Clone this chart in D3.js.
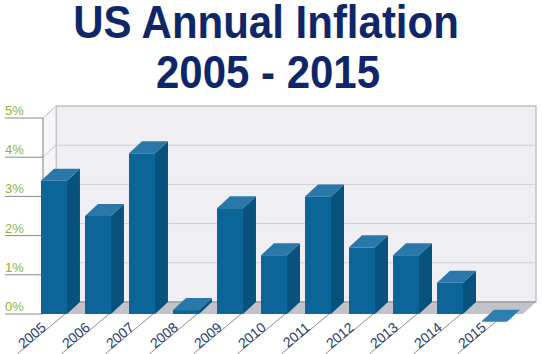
<!DOCTYPE html>
<html>
<head>
<meta charset="utf-8">
<script src="https://cdn.jsdelivr.net/npm/d3@7"></script>
<style>
  body { margin: 0; background: #fff; }
  svg { display: block; font-family: "Liberation Sans", Arial, sans-serif; }
</style>
</head>
<body>
<div id="chart"></div>
<script>
// data (Dec-Dec CPI change, %)
var years = ["2005", "2006", "2007", "2008", "2009", "2010", "2011", "2012", "2013", "2014", "2015"];
var inflation = [3.4, 2.5, 4.1, 0.1, 2.7, 1.5, 3.0, 1.7, 1.5, 0.8, -0.2];
var yTicks = [0, 1, 2, 3, 4, 5];
var titleLines = ["US Annual Inflation", "2005 - 2015"];

var data = years.map(function (d, i) { return { year: d, value: inflation[i] }; });

var width = 542, height = 354;
var dx = 13, dy = -12; // depth of the 3d box
var x0 = 43, x1 = 523;  // front plane

var svg = d3.select("#chart").append("svg")
  .attr("width", width)
  .attr("height", height);

// title
var titleY = [38, 88], titleX = [266, 268];
titleLines.forEach(function (t, i) {
  svg.append("text")
    .attr("transform", "translate(" + titleX[i] + "," + titleY[i] + ") scale(1,1.08)")
    .attr("text-anchor", "middle")
    .attr("font-size", 42)
    .attr("font-weight", "bold")
    .attr("fill", "#0f2768")
    .text(t);
});

var y = d3.scaleLinear().domain([0, 5]).range([314, 118]);
var x = d3.scaleBand()
  .domain(years)
  .range([41, 507])
  .paddingInner(0.41)
  .paddingOuter(0);
var bw = x.bandwidth();

function pts(a) { return a.map(function (p) { return p.join(","); }).join(" "); }

// back wall
svg.append("rect")
  .attr("x", x0 + dx).attr("y", y(5) + dy)
  .attr("width", x1 - x0).attr("height", y(0) - y(5))
  .attr("fill", "#efeff3")
  .attr("stroke", "#a8a8ac").attr("stroke-width", 1);

// left wall
svg.append("polygon")
  .attr("points", pts([[x0, y(5)], [x0 + dx, y(5) + dy], [x0 + dx, y(0) + dy], [x0, y(0)]]))
  .attr("fill", "#f6f6f9")
  .attr("stroke", "#c4c4c8");

// grid lines
var grid = svg.append("g").attr("class", "grid");
yTicks.forEach(function (t) {
  if (t > 0 && t < 5) {
    grid.append("line")
      .attr("x1", x0 + dx).attr("x2", x1 + dx)
      .attr("y1", y(t) + dy).attr("y2", y(t) + dy)
      .attr("stroke", "#cfcfd3");
  }
  grid.append("line")
    .attr("x1", x0).attr("x2", x0 + dx)
    .attr("y1", y(t)).attr("y2", y(t) + dy)
    .attr("stroke", "#c8c8cc");
});

// floor
svg.append("polygon")
  .attr("points", pts([[x0, y(0)], [x1, y(0)], [x1 + dx, y(0) + dy], [x0 + dx, y(0) + dy]]))
  .attr("fill", "#c3c3c7");
svg.append("line")
  .attr("x1", x0 + dx).attr("x2", x1 + dx)
  .attr("y1", y(0) + dy).attr("y2", y(0) + dy)
  .attr("stroke", "#8e8e92");

// y axis ticks and labels
var yAxis = svg.append("g").attr("class", "yAxis");
yAxis.append("line")
  .attr("x1", x0).attr("x2", x0)
  .attr("y1", y(5)).attr("y2", y(0))
  .attr("stroke", "#9a9a9e");
yTicks.forEach(function (t) {
  yAxis.append("line")
    .attr("x1", 5).attr("x2", x0)
    .attr("y1", y(t)).attr("y2", y(t))
    .attr("stroke", "#8a8a8e");
  yAxis.append("text")
    .attr("x", 5).attr("y", y(t) - 3)
    .attr("font-size", 13)
    .attr("fill", "#8db33a")
    .text(t + "%");
});

// x labels with slanted tick lines
var xAxis = svg.append("g").attr("class", "xAxis");
years.forEach(function (d) {
  var bx = x(d);
  xAxis.append("line")
    .attr("x1", bx + 24).attr("y1", y(0))
    .attr("x2", bx + 24 - 62 * Math.cos(40 * Math.PI / 180))
    .attr("y2", y(0) + 62 * Math.sin(40 * Math.PI / 180))
    .attr("stroke", "#8a8a8e");
  xAxis.append("text")
    .attr("transform", "translate(" + (bx + 6) + "," + 329 + ") rotate(-40)")
    .attr("text-anchor", "end")
    .attr("font-size", 14)
    .attr("fill", "#2b3d6c")
    .text(d);
});

// bars
var bars = svg.selectAll(".bar").data(data).enter()
  .append("g").attr("class", "bar");

bars.each(function (d) {
  var g = d3.select(this);
  var bx = x(d.year);
  var top = y(d.value), base = y(0);
  if (d.value >= 0) {
    g.append("rect")
      .attr("x", bx).attr("y", top)
      .attr("width", bw).attr("height", base - top)
      .attr("fill", "#0b6598");
    g.append("polygon")
      .attr("points", pts([[bx + bw, top], [bx + bw + dx, top + dy], [bx + bw + dx, base + dy], [bx + bw, base]]))
      .attr("fill", "#07527f");
  }
  g.append("polygon")
    .attr("points", pts([[bx, top], [bx + dx, top + dy], [bx + bw + dx, top + dy], [bx + bw, top]]))
    .attr("fill", d.value >= 0 ? "#2a78aa" : "#2d7fb1");
});
</script>
</body>
</html>
